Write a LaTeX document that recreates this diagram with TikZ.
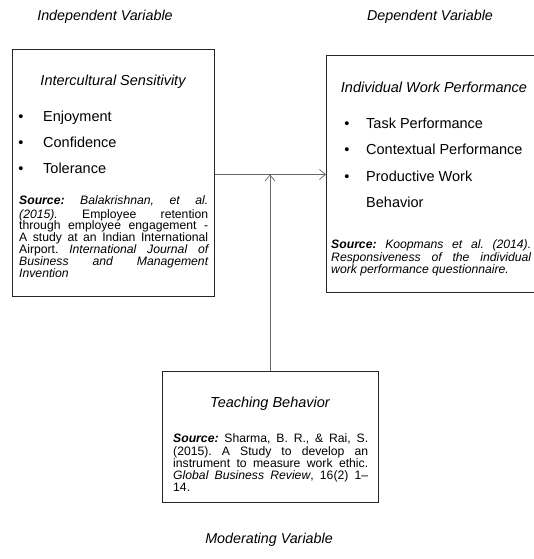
\documentclass[tikz,border=0pt]{standalone}
\usepackage{fontspec}
\setmainfont{Liberation Sans}
\usetikzlibrary{arrows.meta}
\tolerance=10000
\hbadness=10000
\hyphenpenalty=10000
\exhyphenpenalty=10000
\frenchspacing
\begin{document}
\begin{tikzpicture}[x=1pt,y=-1pt,
  box/.style={draw=black!85,line width=1pt,inner sep=0pt,anchor=north west},
  hdr/.style={font=\fontsize{14.3}{16}\selectfont\itshape,anchor=base,inner sep=0pt},
  ttl/.style={font=\fontsize{14.5}{16}\selectfont\itshape,anchor=base,inner sep=0pt},
  itm/.style={font=\fontsize{14.5}{16}\selectfont,anchor=base west,inner sep=0pt},
  blt/.style={font=\fontsize{14.5}{16}\selectfont,anchor=base,inner sep=0pt},
  src/.style={font=\fontsize{12.2}{11.8}\selectfont\frenchspacing,align=justify,anchor=north west,inner sep=0pt},
  conn/.style={draw=black!60,line width=0.7pt,-{Straight Barb[length=6pt,width=10pt]}}]
\useasboundingbox (0,0) rectangle (533,559);

% headers
\node[hdr] (hind) at (105,20.1) {Independent Variable};
\node[hdr] (hdep) at (430,20.1) {Dependent Variable};
\node[hdr] (hmod) at (269,543.1) {Moderating Variable};

% boxes
\node[box,minimum width=202pt,minimum height=247pt] (lbox) at (12,49) {};
\node[box,minimum width=214pt,minimum height=237pt] (rbox) at (326,55) {};
\node[box,minimum width=216pt,minimum height=131pt] (bbox) at (162,371) {};

% left box content
\node[ttl] (lt) at (113,85.2) {Intercultural Sensitivity};
\node[blt] (lb1) at (21,121.2) {\textbullet};
\node[blt] (lb2) at (21,147.2) {\textbullet};
\node[blt] (lb3) at (21,173.2) {\textbullet};
\node[itm] (li1) at (43,121.2) {Enjoyment};
\node[itm] (li2) at (43,147.2) {Confidence};
\node[itm] (li3) at (43,173.2) {Tolerance};
\node[src,text width=189pt] (ls) at (19,195.6) {\strut\textbf{\textit{Source:}} \textit{Balakrishnan, et al.}\linebreak
\textit{(2015).} Employee retention\linebreak
through employee engagement -\linebreak
A study at an Indian International\linebreak
Airport. \textit{International Journal of\linebreak
Business and Management\linebreak
Invention}};

% right box content
\node[ttl] (rt) at (434,92.2) {Individual Work Performance};
\node[blt] (rb1) at (347,128.2) {\textbullet};
\node[blt] (rb2) at (347,154.2) {\textbullet};
\node[blt] (rb3) at (347,181.2) {\textbullet};
\node[itm] (ri1) at (366,128.2) {Task Performance};
\node[itm] (ri2) at (366,154.2) {Contextual Performance};
\node[itm] (ri3) at (366,181.2) {Productive Work};
\node[itm] (ri4) at (366,207.2) {Behavior};
\node[src,text width=200pt] (rs) at (331,239.2) {\strut\textit{\textbf{Source:} Koopmans et al. (2014).\linebreak
Responsiveness of the individual\linebreak
work performance questionnaire.}};

% bottom box content
\node[ttl] (bt) at (270,407.2) {Teaching Behavior};
\node[src,text width=195pt] (bs) at (173,433.2) {\strut\textbf{\textit{Source:}} Sharma, B. R., \& Rai, S.\linebreak
(2015). A Study to develop an\linebreak
instrument to measure work ethic.\linebreak
\textit{Global Business Review}, 16(2) 1--\linebreak
14.};

% connectors
\coordinate (meet) at (270,174.5);
\draw[conn] (lbox.east |- meet) -- (rbox.west |- meet);
\draw[conn] (bbox.north -| meet) -- (meet);
\end{tikzpicture}
\end{document}
